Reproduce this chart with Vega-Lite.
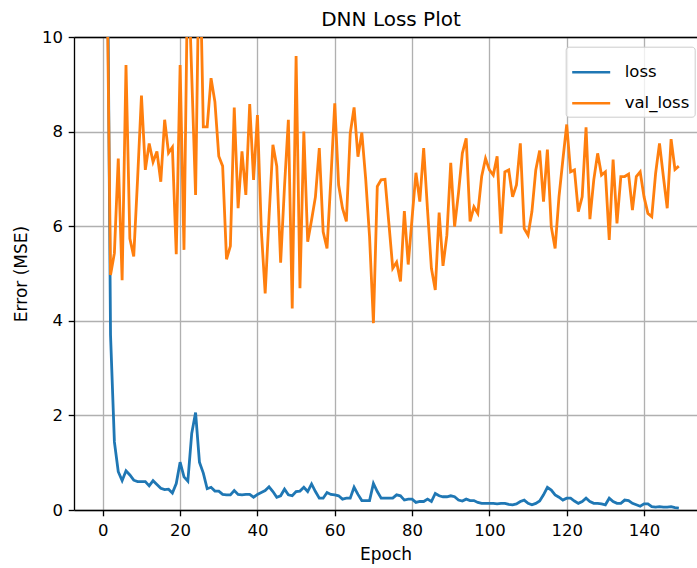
{
  "$schema": "https://vega.github.io/schema/vega-lite/v6.json",
  "autosize": "none",
  "width": 623,
  "height": 473,
  "padding": {"left": 74, "top": 37, "right": 0, "bottom": 58},
  "background": "white",
  "title": {"text": "DNN Loss Plot", "fontSize": 20, "font": "DejaVu Sans", "fontWeight": "normal", "color": "#000000", "anchor": "middle", "dx": 5.5, "offset": -1},
  "data": {"values": [
    {"epoch":0,"loss":40,"val_loss":20},{"epoch":1,"loss":14,"val_loss":12},{"epoch":2,"loss":3.7,"val_loss":4.97},{"epoch":3,"loss":1.44,"val_loss":5.43},{"epoch":4,"loss":0.81,"val_loss":7.43},
    {"epoch":5,"loss":0.62,"val_loss":4.86},{"epoch":6,"loss":0.83,"val_loss":9.41},{"epoch":7,"loss":0.74,"val_loss":5.74},{"epoch":8,"loss":0.63,"val_loss":5.36},{"epoch":9,"loss":0.6,"val_loss":7.0},
    {"epoch":10,"loss":0.6,"val_loss":8.76},{"epoch":11,"loss":0.6,"val_loss":7.19},{"epoch":12,"loss":0.51,"val_loss":7.75},{"epoch":13,"loss":0.62,"val_loss":7.36},{"epoch":14,"loss":0.54,"val_loss":7.58},
    {"epoch":15,"loss":0.46,"val_loss":6.94},{"epoch":16,"loss":0.43,"val_loss":8.25},{"epoch":17,"loss":0.44,"val_loss":7.55},{"epoch":18,"loss":0.36,"val_loss":7.67},{"epoch":19,"loss":0.56,"val_loss":5.41},
    {"epoch":20,"loss":1.01,"val_loss":9.41},{"epoch":21,"loss":0.7,"val_loss":5.5},{"epoch":22,"loss":0.61,"val_loss":11.7},{"epoch":23,"loss":1.62,"val_loss":9.2},{"epoch":24,"loss":2.06,"val_loss":6.66},
    {"epoch":25,"loss":1.01,"val_loss":12.2},{"epoch":26,"loss":0.78,"val_loss":8.1},{"epoch":27,"loss":0.45,"val_loss":8.1},{"epoch":28,"loss":0.48,"val_loss":9.13},{"epoch":29,"loss":0.4,"val_loss":8.63},
    {"epoch":30,"loss":0.4,"val_loss":7.48},{"epoch":31,"loss":0.33,"val_loss":7.27},{"epoch":32,"loss":0.32,"val_loss":5.3},{"epoch":33,"loss":0.32,"val_loss":5.58},{"epoch":34,"loss":0.41,"val_loss":8.51},
    {"epoch":35,"loss":0.33,"val_loss":6.38},{"epoch":36,"loss":0.32,"val_loss":7.58},{"epoch":37,"loss":0.33,"val_loss":6.66},{"epoch":38,"loss":0.33,"val_loss":8.58},{"epoch":39,"loss":0.27,"val_loss":6.98},
    {"epoch":40,"loss":0.33,"val_loss":8.35},{"epoch":41,"loss":0.37,"val_loss":5.92},{"epoch":42,"loss":0.41,"val_loss":4.58},{"epoch":43,"loss":0.49,"val_loss":6.2},{"epoch":44,"loss":0.39,"val_loss":7.72},
    {"epoch":45,"loss":0.27,"val_loss":7.27},{"epoch":46,"loss":0.3,"val_loss":5.23},{"epoch":47,"loss":0.44,"val_loss":6.84},{"epoch":48,"loss":0.32,"val_loss":8.25},{"epoch":49,"loss":0.3,"val_loss":4.26},
    {"epoch":50,"loss":0.39,"val_loss":9.6},{"epoch":51,"loss":0.4,"val_loss":4.69},{"epoch":52,"loss":0.48,"val_loss":8.0},{"epoch":53,"loss":0.39,"val_loss":5.67},{"epoch":54,"loss":0.55,"val_loss":6.13},
    {"epoch":55,"loss":0.39,"val_loss":6.62},{"epoch":56,"loss":0.25,"val_loss":7.65},{"epoch":57,"loss":0.25,"val_loss":5.88},{"epoch":58,"loss":0.37,"val_loss":5.53},{"epoch":59,"loss":0.33,"val_loss":7.0},
    {"epoch":60,"loss":0.32,"val_loss":8.6},{"epoch":61,"loss":0.3,"val_loss":6.87},{"epoch":62,"loss":0.23,"val_loss":6.38},{"epoch":63,"loss":0.25,"val_loss":6.1},{"epoch":64,"loss":0.25,"val_loss":7.96},
    {"epoch":65,"loss":0.48,"val_loss":8.51},{"epoch":66,"loss":0.33,"val_loss":7.47},{"epoch":67,"loss":0.2,"val_loss":7.98},{"epoch":68,"loss":0.2,"val_loss":7.0},{"epoch":69,"loss":0.2,"val_loss":5.78},
    {"epoch":70,"loss":0.56,"val_loss":3.95},{"epoch":71,"loss":0.39,"val_loss":6.84},{"epoch":72,"loss":0.25,"val_loss":6.98},{"epoch":73,"loss":0.25,"val_loss":6.99},{"epoch":74,"loss":0.25,"val_loss":6.06},
    {"epoch":75,"loss":0.25,"val_loss":5.11},{"epoch":76,"loss":0.32,"val_loss":5.24},{"epoch":77,"loss":0.3,"val_loss":4.83},{"epoch":78,"loss":0.21,"val_loss":6.32},{"epoch":79,"loss":0.23,"val_loss":5.19},
    {"epoch":80,"loss":0.23,"val_loss":6.17},{"epoch":81,"loss":0.16,"val_loss":7.13},{"epoch":82,"loss":0.18,"val_loss":6.52},{"epoch":83,"loss":0.18,"val_loss":7.65},{"epoch":84,"loss":0.23,"val_loss":6.34},
    {"epoch":85,"loss":0.18,"val_loss":5.11},{"epoch":86,"loss":0.35,"val_loss":4.65},{"epoch":87,"loss":0.3,"val_loss":6.29},{"epoch":88,"loss":0.28,"val_loss":5.16},{"epoch":89,"loss":0.28,"val_loss":5.81},
    {"epoch":90,"loss":0.3,"val_loss":7.34},{"epoch":91,"loss":0.28,"val_loss":5.99},{"epoch":92,"loss":0.21,"val_loss":6.7},{"epoch":93,"loss":0.19,"val_loss":7.54},{"epoch":94,"loss":0.23,"val_loss":7.86},
    {"epoch":95,"loss":0.2,"val_loss":6.1},{"epoch":96,"loss":0.2,"val_loss":6.41},{"epoch":97,"loss":0.16,"val_loss":6.27},{"epoch":98,"loss":0.14,"val_loss":7.05},{"epoch":99,"loss":0.14,"val_loss":7.43},
    {"epoch":100,"loss":0.14,"val_loss":7.19},{"epoch":101,"loss":0.14,"val_loss":7.08},{"epoch":102,"loss":0.13,"val_loss":7.48},{"epoch":103,"loss":0.14,"val_loss":5.84},{"epoch":104,"loss":0.14,"val_loss":7.15},
    {"epoch":105,"loss":0.12,"val_loss":7.19},{"epoch":106,"loss":0.11,"val_loss":6.62},{"epoch":107,"loss":0.13,"val_loss":6.87},{"epoch":108,"loss":0.18,"val_loss":7.75},{"epoch":109,"loss":0.21,"val_loss":5.95},
    {"epoch":110,"loss":0.14,"val_loss":5.81},{"epoch":111,"loss":0.11,"val_loss":6.31},{"epoch":112,"loss":0.14,"val_loss":7.19},{"epoch":113,"loss":0.19,"val_loss":7.6},{"epoch":114,"loss":0.32,"val_loss":6.52},
    {"epoch":115,"loss":0.48,"val_loss":7.62},{"epoch":116,"loss":0.42,"val_loss":5.99},{"epoch":117,"loss":0.32,"val_loss":5.53},{"epoch":118,"loss":0.27,"val_loss":6.62},{"epoch":119,"loss":0.21,"val_loss":7.4},
    {"epoch":120,"loss":0.25,"val_loss":8.15},{"epoch":121,"loss":0.25,"val_loss":7.15},{"epoch":122,"loss":0.19,"val_loss":7.19},{"epoch":123,"loss":0.14,"val_loss":6.31},{"epoch":124,"loss":0.18,"val_loss":6.62},
    {"epoch":125,"loss":0.25,"val_loss":8.09},{"epoch":126,"loss":0.18,"val_loss":6.15},{"epoch":127,"loss":0.14,"val_loss":6.98},{"epoch":128,"loss":0.14,"val_loss":7.54},{"epoch":129,"loss":0.13,"val_loss":7.08},
    {"epoch":130,"loss":0.11,"val_loss":7.15},{"epoch":131,"loss":0.25,"val_loss":5.71},{"epoch":132,"loss":0.18,"val_loss":7.41},{"epoch":133,"loss":0.14,"val_loss":6.06},{"epoch":134,"loss":0.14,"val_loss":7.05},
    {"epoch":135,"loss":0.21,"val_loss":7.05},{"epoch":136,"loss":0.2,"val_loss":7.1},{"epoch":137,"loss":0.14,"val_loss":6.34},{"epoch":138,"loss":0.11,"val_loss":7.05},{"epoch":139,"loss":0.08,"val_loss":7.15},
    {"epoch":140,"loss":0.13,"val_loss":6.62},{"epoch":141,"loss":0.13,"val_loss":6.27},{"epoch":142,"loss":0.07,"val_loss":6.2},{"epoch":143,"loss":0.06,"val_loss":7.12},{"epoch":144,"loss":0.07,"val_loss":7.75},
    {"epoch":145,"loss":0.06,"val_loss":7.05},{"epoch":146,"loss":0.06,"val_loss":6.38},{"epoch":147,"loss":0.07,"val_loss":7.84},{"epoch":148,"loss":0.05,"val_loss":7.2},{"epoch":149,"loss":0.04,"val_loss":7.27}
  ]},
  "layer": [
    {
      "mark": {"type": "line", "clip": true, "strokeWidth": 2.8},
      "encoding": {
        "x": {"field": "epoch", "type": "quantitative",
              "scale": {"domain": [-7.45, 153.7], "nice": false, "zero": false},
              "axis": {"orient": "bottom", "values": [0,20,40,60,80,100,120,140], "title": "Epoch", "grid": true, "labelPadding": 7, "titlePadding": 7, "labelFlush": false, "labelOverlap": false}},
        "y": {"field": "loss", "type": "quantitative",
              "scale": {"domain": [0, 10], "nice": false, "zero": false},
              "axis": {"values": [0,2,4,6,8,10], "title": "Error (MSE)", "grid": true, "titlePadding": 11, "labelOverlap": false}},
        "color": {"datum": "loss", "type": "nominal",
                  "scale": {"domain": ["loss", "val_loss"], "range": ["#1f77b4", "#ff7f0e"]},
                  "legend": {"title": null, "orient": "none", "legendX": 491.7, "legendY": 9.7,
                             "symbolType": "stroke", "symbolSize": 1444, "symbolStrokeWidth": 2.5,
                             "labelFontSize": 16.5, "labelColor": "#000000", "labelOffset": 13,
                             "fillColor": "rgba(255,255,255,0.8)", "strokeColor": "#cccccc", "cornerRadius": 3, "padding": 5}}
      }
    },
    {
      "mark": {"type": "line", "clip": true, "strokeWidth": 2.8},
      "encoding": {
        "x": {"field": "epoch", "type": "quantitative",
              "axis": {"orient": "top", "labels": false, "ticks": false, "grid": false, "domain": true, "title": null}},
        "y": {"field": "val_loss", "type": "quantitative",
              "axis": {"values": [0,2,4,6,8,10], "title": "Error (MSE)", "grid": true, "titlePadding": 11, "labelOverlap": false}},
        "color": {"datum": "val_loss", "type": "nominal"}
      }
    }
  ],
  "resolve": {"axis": {"x": "independent"}},
  "config": {
    "font": "DejaVu Sans",
    "view": {"stroke": null},
    "axis": {
      "domainColor": "#000000", "domainWidth": 1.33,
      "tickColor": "#000000", "tickWidth": 1.33, "tickSize": 5.8,
      "labelFont": "DejaVu Sans", "labelFontSize": 16.5, "labelColor": "#000000", "labelPadding": 5.8,
      "titleFont": "DejaVu Sans", "titleFontSize": 17, "titleFontWeight": "normal", "titleColor": "#000000",
      "gridColor": "#b0b0b0", "gridWidth": 1.33
    },
    "legend": {"labelFont": "DejaVu Sans"}
  }
}
